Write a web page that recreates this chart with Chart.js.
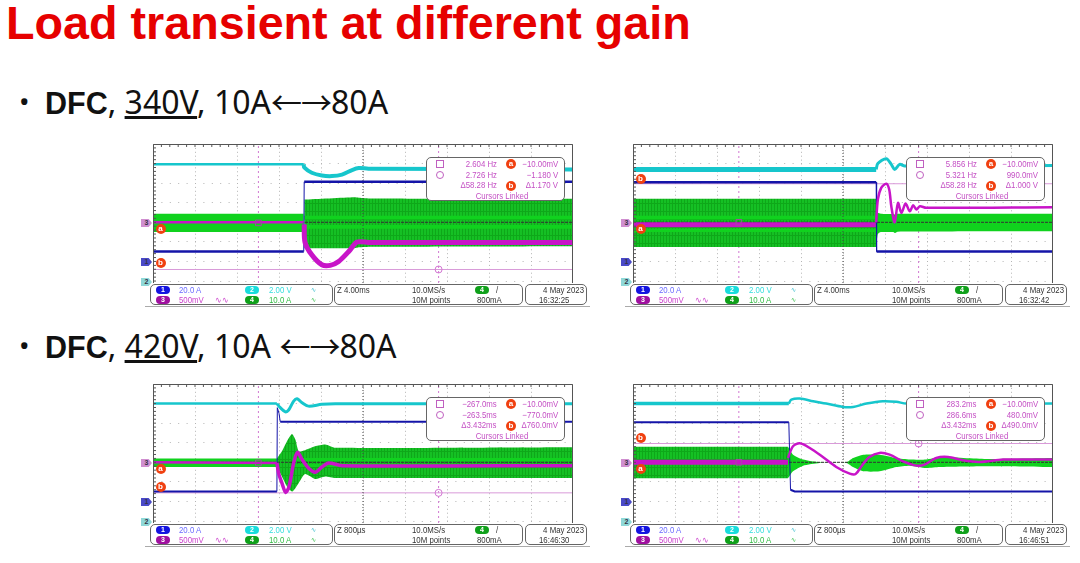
<!DOCTYPE html>
<html>
<head>
<meta charset="utf-8">
<title>Load transient at different gain</title>
<script src="https://cdn.jsdelivr.net/npm/chart.js@4"></script>
<style>
    html, body { margin: 0; padding: 0; background: #fff; }
    body { width: 1080px; height: 563px; position: relative; overflow: hidden; font-family: "Liberation Sans", Arial, sans-serif; }
    h1 { position: absolute; left: 6px; top: -3px; margin: 0; font-size: 46.7px; line-height: 52px; font-weight: bold; color: #e60000; white-space: nowrap; }
    .bullet { position: absolute; left: 45px; font-family: "Noto Sans", sans-serif; font-size: 32px; line-height: 36px; color: #111; white-space: nowrap; }
    .bullet b { font-family: "Liberation Sans", sans-serif; font-size: 30.5px; }
    .bullet i { position: absolute; left: -26px; font-style: normal; font-size: 28px; }
    .arrows { font-family: "Noto Sans CJK SC", sans-serif; font-size: 31px; letter-spacing: -1px; }
    canvas { position: absolute; filter: blur(0.35px); }
    .t { position: absolute; font-family: "Liberation Sans", sans-serif; font-size: 9px; line-height: 10px; white-space: nowrap; transform: scaleX(0.87); transform-origin: left center; filter: blur(0.2px); }
    .t.r { transform-origin: right center; }
    .t.c { transform-origin: center center; }
    .box { position: absolute; box-sizing: border-box; background: #fff; border: 1px solid #666; border-radius: 5px; }
    .pill { position: absolute; width: 14px; height: 8px; border-radius: 4px; color: #fff; font: bold 7px/8px "Liberation Sans", sans-serif; text-align: center; }
    .dot { position: absolute; width: 10px; height: 10px; border-radius: 50%; background: #f04010; color: #fff; font: bold 8px/9px "Liberation Sans", sans-serif; text-align: center; }
    .tag { position: absolute; width: 11px; height: 8px; color: #334; font: bold 7px/8px "Liberation Sans", sans-serif; text-align: center; clip-path: polygon(0 0, 70% 0, 100% 50%, 70% 100%, 0 100%); }
    .rule { position: absolute; height: 1px; background: #aaa; }
</style>
</head>
<body>
<h1>Load transient at different gain</h1>
<div class="bullet" style="top:83px"><i>•</i><b>DFC</b>, <u>340V</u>, 10A<span class="arrows">←→</span>80A</div>
<div class="bullet" style="top:327px"><i>•</i><b>DFC</b>, <u>420V</u>, 10A <span class="arrows">←→</span>80A</div>

<script>
const xDivisions = [0, 1, 2, 3, 4, 5, 6, 7, 8, 9, 10];
const yDivisions = [-3, -2, -1, 0, 1, 2, 3, 4];

// panel 1: 340V, 10A -> 80A
const p1CyanFlat = [[0, 2.96], [3.59, 2.96]];
const p1CyanDip = [[3.59, 2.96], [3.6, 2.8], [3.78, 2.53], [4.02, 2.39], [4.26, 2.36], [4.5, 2.44], [4.74, 2.67], [4.9, 2.77], [5.13, 2.74], [10, 2.7]];
const p1Blue = [[0, -1.49], [3.59, -1.49], [3.6, 2.07], [10, 2.07]];
const p1MagentaFlat = [[0, 0], [3.59, 0]];
const p1MagentaDip = [[3.6, -0.1], [3.62, -1.02], [3.78, -1.66], [4.02, -2.17], [4.22, -2.2], [4.42, -2], [4.66, -1.49], [4.86, -1.01], [5.13, -1.03], [10, -1.03]];
const p1GreenSolid = [[0, 0.44, -0.5], [3.59, 0.44, -0.5]];
const p1GreenRipple = [[3.6, 1.16, -1.32], [4.8, 1.28, -1.32], [4.9, 1.26, -1.28], [5.2, 1.22, -1.25], [10, 1.2, -1.22]];
const p1GreenBright = [[3.6, 10, 0.34, 0.14], [3.6, 10, -0.14, -0.33]];
const p1CursorX = [2.51, 6.8];
const p1CursorY = [-0.03, -2.41];

// panel 2: 340V, 80A -> 10A
const p2CyanFlat = [[0, 2.7], [5.79, 2.7]];
const p2CyanRing = [[5.79, 2.7], [5.83, 3], [6.03, 3.25], [6.15, 2.96], [6.23, 2.7], [6.35, 2.96], [6.47, 2.87], [10, 2.9]];
const p2Blue = [[0, 2.05], [5.79, 2.05], [5.8, -1.49], [10, -1.49]];
const p2MagentaFlat = [[0, -0.12], [5.78, -0.12]];
const p2MagentaRing = [[5.79, 0], [5.83, 1.16], [5.91, 1.76], [6.03, 1.97], [6.1, 1.68], [6.15, 0.82], [6.23, 0], [6.31, 0.99], [6.39, 0.48], [6.49, 0.96], [6.59, 0.56], [6.67, 0.87], [6.75, 0.65], [6.83, 0.82], [6.98, 0.74], [10, 0.77]];
const p2GreenSolid = [[5.79, 1.2, -1.26], [5.83, 0.5, -0.6], [5.9, 0.44, -0.5], [6.2, 0.42, -0.5], [6.23, 0.4, -0.55], [6.3, 0.44, -0.48], [10, 0.44, -0.46]];
const p2GreenRipple = [[0, 1.2, -1.26], [5.79, 1.2, -1.26]];
const p2GreenBright = [[0, 5.79, 0.34, 0.14], [0, 5.79, -0.33, -0.5]];
const p2CursorX = [2.52, 6.8];
const p2CursorY = [0, 1.97];

// panel 3: 420V, 10A -> 80A
const p3CyanFlat = [[0, 3], [2.95, 3]];
const p3CyanRing = [[2.95, 3], [3.03, 2.79], [3.15, 2.58], [3.23, 2.67], [3.35, 3.13], [3.43, 3.25], [3.55, 3.04], [3.7, 2.87], [4.02, 2.96], [4.34, 2.99], [10, 2.99]];
const p3Blue = [[0, -1.49], [2.95, -1.49], [2.96, 2.79], [3, 2.5], [3.03, 2.07], [10, 2.07]];
const p3MagentaFlat = [[0, 0], [2.95, -0.03]];
const p3MagentaRing = [[2.95, -0.03], [2.99, -0.55], [3.07, -1.06], [3.16, -1.54], [3.24, -1.23], [3.35, -0.03], [3.44, 0.51], [3.55, 0.14], [3.7, -0.29], [3.86, -0.51], [4.02, -0.24], [4.18, -0.03], [4.5, -0.17], [10, -0.17]];
const p3GreenSolid = [[0, 0.2, -0.24], [2.95, 0.2, -0.24]];
const p3GreenRipple = [[2.95, 0.2, -0.24], [3.07, 0.56, -0.72], [3.19, 1.08, -1.23], [3.31, 1.45, -1.49], [3.39, 1.16, -1.32], [3.47, 0.56, -1.06], [3.62, 0.62, -0.6], [3.86, 0.82, -0.85], [4.1, 0.91, -0.72], [4.34, 0.74, -0.8], [10, 0.77, -0.8]];
const p3GreenBright = [[3.3, 10, 0.22, 0.06], [3.3, 10, -0.08, -0.24]];
const p3CursorX = [2.51, 6.8];
const p3CursorY = [-0.03, -1.56];

// panel 4: 420V, 80A -> 10A
const p4CyanFlat = [[0, 3], [3.71, 3]];
const p4CyanRing = [[3.71, 3], [3.77, 3.2], [3.97, 3.26], [4.29, 3.12], [4.6, 3], [5, 2.83], [5.24, 2.83], [5.56, 3], [5.95, 3.12], [6.27, 3.09], [6.51, 3], [10, 3]];
const p4Blue = [[0, 2.05], [3.71, 2.05], [3.75, -1.4], [3.85, -1.49], [10, -1.49]];
const p4MagentaFlat = [[0, 0], [3.69, 0]];
const p4MagentaRing = [[3.69, 0.22], [3.81, 0.82], [3.97, 0.97], [4.21, 0.73], [4.52, 0.27], [4.84, -0.24], [5.16, -0.58], [5.3, -0.6], [5.44, -0.2], [5.63, 0.27], [5.87, 0.48], [6.11, 0.39], [6.43, 0.05], [6.75, -0.17], [6.94, -0.12], [7.22, 0.22], [7.5, 0.27], [7.86, 0.1], [8.25, 0.02], [8.81, 0.14], [9.37, 0.14], [10, 0.14]];
const p4GreenSolid = [[3.69, 0.79, -0.82], [3.81, 0.39, -0.46], [4.05, 0.14, -0.17], [4.44, 0, -0.03], [5.08, 0, -0.03], [5.24, 0.22, -0.24], [5.48, 0.39, -0.46], [5.87, 0.39, -0.46], [6.27, 0.22, -0.24], [6.59, 0.14, -0.17], [6.98, 0.14, -0.29], [7.3, 0.27, -0.24], [8.41, 0.17, -0.2], [10, 0.22, -0.24]];
const p4GreenRipple = [[0, 0.79, -0.82], [3.69, 0.79, -0.82]];
const p4GreenBright = [];
const p4CursorX = [2.52, 6.8];
const p4CursorY = [0, 0.96];

// readouts: square, circle, delta, right column
const p1Readout = ['2.604 Hz', '2.726 Hz', 'Δ58.28 Hz', '−10.00mV', '−1.180 V', 'Δ1.170 V'];
const p2Readout = ['5.856 Hz', '5.321 Hz', 'Δ58.28 Hz', '−10.00mV', '990.0mV', 'Δ1.000 V'];
const p3Readout = ['−267.0ms', '−263.5ms', 'Δ3.432ms', '−10.00mV', '−770.0mV', 'Δ760.0mV'];
const p4Readout = ['283.2ms', '286.6ms', 'Δ3.432ms', '−10.00mV', '480.0mV', 'Δ490.0mV'];
const zoomLabels = ['Z 4.00ms', 'Z 4.00ms', 'Z 800µs', 'Z 800µs'];
const timeLabels = ['16:32:25', '16:32:42', '16:46:30', '16:46:51'];

const panels = [
    { left: 153, top: 144, cyan: [p1CyanFlat, p1CyanDip], cyanW: [2.5, 4], blue: p1Blue, blueW: 2.5, magenta: [p1MagentaFlat, p1MagentaDip], magentaW: [2.5, 5], solid: p1GreenSolid, ripple: p1GreenRipple, bright: p1GreenBright, cursorX: p1CursorX, cursorY: p1CursorY, readout: p1Readout, a: 229, b: 263, zoom: zoomLabels[0], time: timeLabels[0] },
    { left: 633, top: 144, cyan: [p2CyanFlat, p2CyanRing], cyanW: [5, 3], blue: p2Blue, blueW: 2.5, magenta: [p2MagentaFlat, p2MagentaRing], magentaW: [5, 2.5], solid: p2GreenSolid, ripple: p2GreenRipple, bright: p2GreenBright, cursorX: p2CursorX, cursorY: p2CursorY, readout: p2Readout, a: 229, b: 179, zoom: zoomLabels[1], time: timeLabels[1] },
    { left: 153, top: 384, cyan: [p3CyanFlat, p3CyanRing], cyanW: [2.5, 3], blue: p3Blue, blueW: 2, magenta: [p3MagentaFlat, p3MagentaRing], magentaW: [2.5, 3.5], solid: p3GreenSolid, ripple: p3GreenRipple, bright: p3GreenBright, cursorX: p3CursorX, cursorY: p3CursorY, readout: p3Readout, a: 229, b: 247, zoom: zoomLabels[2], time: timeLabels[2] },
    { left: 633, top: 384, cyan: [p4CyanFlat, p4CyanRing], cyanW: [3.5, 2.5], blue: p4Blue, blueW: 2, magenta: [p4MagentaFlat, p4MagentaRing], magentaW: [5, 2.5], solid: p4GreenSolid, ripple: p4GreenRipple, bright: p4GreenBright, cursorX: p4CursorX, cursorY: p4CursorY, readout: p4Readout, a: 229, b: 198, zoom: zoomLabels[3], time: timeLabels[3] }
];

const CYAN = '#16c6cc';
const BLUE = '#1414a8';
const MAGENTA = '#c814c8';
const GREEN = '#10d21e';
const CURSOR = '#d277d2';
const Y_MIN = -3.1;
const Y_MAX = 4;

function ripplePattern() {
    const c = document.createElement('canvas');
    c.width = 3;
    c.height = 8;
    const ctx = c.getContext('2d');
    ctx.fillStyle = '#15c024';
    ctx.fillRect(0, 0, 3, 8);
    ctx.fillStyle = '#0ea819';
    ctx.fillRect(0, 0, 1, 8);
    ctx.fillRect(0, 3, 3, 1);
    return ctx.createPattern(c, 'repeat');
}

const toXY = pts => pts.map(p => ({ x: p[0], y: p[1] }));

function line(pts, color, width, extra) {
    return Object.assign({ data: toXY(pts), borderColor: color, borderWidth: width, pointRadius: 0, fill: false, tension: 0 }, extra);
}

// two datasets, the first one fills down to the second
function band(rows, fillStyle) {
    return [
        { data: rows.map(r => ({ x: r[0], y: r[1] })), borderWidth: 0, pointRadius: 0, fill: '+1', backgroundColor: fillStyle, tension: 0.2 },
        { data: rows.map(r => ({ x: r[0], y: r[2] })), borderWidth: 0, pointRadius: 0, fill: false, tension: 0.2 }
    ];
}

function buildDatasets(p) {
    const sets = [];
    // bottom of the stack first
    sets.push(line([[p.cursorX[0], Y_MIN], [p.cursorX[0], Y_MAX]], CURSOR, 1, { borderDash: [2, 3] }));
    sets.push(line([[p.cursorX[1], Y_MIN], [p.cursorX[1], Y_MAX]], CURSOR, 1, { borderDash: [2, 3] }));
    sets.push(line([[0, p.cursorY[1]], [10, p.cursorY[1]]], '#d99ad9', 1));
    sets.push(...band(p.ripple, ripplePattern()));
    if (p.solid.length) sets.push(...band(p.solid, GREEN));
    p.bright.forEach(b => sets.push(...band([[b[0], b[2], b[3]], [b[1], b[2], b[3]]], GREEN)));
    // centre cross stays visible on top of the green
    sets.push(line([[0, 0], [10, 0]], '#333', 1, { borderDash: [3, 1] }));
    sets.push(line([[5, Y_MIN], [5, Y_MAX]], '#444', 1, { borderDash: [1, 2] }));
    sets.push(line(p.cyan[0], CYAN, p.cyanW[0]));
    sets.push(line(p.cyan[1], CYAN, p.cyanW[1], { tension: 0.3 }));
    // the edge of the step is thin and pale on the scope
    sets.push(line(p.blue, BLUE, p.blueW, {
        segment: { borderWidth: ctx => Math.abs(ctx.p1.parsed.x - ctx.p0.parsed.x) < 0.1 ? 1 : p.blueW }
    }));
    sets.push(line(p.magenta[0], MAGENTA, p.magentaW[0]));
    sets.push(line(p.magenta[1], MAGENTA, p.magentaW[1], { tension: 0.3 }));
    sets.push({ data: [{ x: p.cursorX[0], y: p.cursorY[0] }], showLine: false, pointStyle: 'rect', pointRadius: 4, borderColor: '#a04ca0', borderWidth: 1, backgroundColor: 'rgba(0,0,0,0)' });
    sets.push({ data: [{ x: p.cursorX[1], y: p.cursorY[1] }], showLine: false, pointStyle: 'circle', pointRadius: 3.5, borderColor: CURSOR, borderWidth: 1, backgroundColor: 'rgba(0,0,0,0)' });
    // Chart.js paints low order last
    sets.forEach((s, i) => { s.order = sets.length - i; });
    return sets;
}

// scope frame and the small ticks along its edges
const framePlugin = {
    id: 'frame',
    afterDraw(chart) {
        const { ctx, chartArea: a, scales: { x, y } } = chart;
        ctx.save();
        ctx.strokeStyle = '#555';
        ctx.lineWidth = 1;
        ctx.beginPath();
        ctx.moveTo(a.left + 0.5, a.bottom);
        ctx.lineTo(a.left + 0.5, a.top + 0.5);
        ctx.lineTo(a.right - 0.5, a.top + 0.5);
        ctx.lineTo(a.right - 0.5, a.bottom);
        for (let v = 0; v <= 10; v += 0.2) {
            ctx.moveTo(x.getPixelForValue(v), a.top);
            ctx.lineTo(x.getPixelForValue(v), a.top + 3);
        }
        for (let v = -3; v <= 4; v += 0.2) {
            ctx.moveTo(a.left, y.getPixelForValue(v));
            ctx.lineTo(a.left + 3, y.getPixelForValue(v));
        }
        ctx.stroke();
        ctx.restore();
    }
};

function addText(text, x, y, color, align, size) {
    const el = document.createElement('div');
    el.className = 't';
    el.textContent = text;
    el.style.top = y + 'px';
    el.style.color = color;
    if (size) el.style.fontSize = size + 'px';
    if (align === 'right') {
        el.classList.add('r');
        el.style.right = (1080 - x) + 'px';
    } else if (align === 'center') {
        el.classList.add('c');
        el.style.left = (x - 40) + 'px';
        el.style.width = '80px';
        el.style.textAlign = 'center';
    } else {
        el.style.left = x + 'px';
    }
    document.body.appendChild(el);
}

function addEl(cls, x, y, w, h, text, color) {
    const el = document.createElement('div');
    el.className = cls;
    el.style.left = x + 'px';
    el.style.top = y + 'px';
    if (w) el.style.width = w + 'px';
    if (h) el.style.height = h + 'px';
    if (text) el.textContent = text;
    if (color) el.style.background = color;
    document.body.appendChild(el);
    return el;
}

function drawOverlay(p) {
    const L = p.left, T = p.top;

    // cursor readout box
    addEl('box', L + 272.7, T + 13.3, 139, 44);
    const sq = addEl('box', L + 283, T + 16, 8, 8);
    sq.style.cssText += ';border-radius:0;border-color:#c060c0;background:transparent';
    const ci = addEl('box', L + 283, T + 26.7, 8, 8);
    ci.style.cssText += ';border-radius:50%;border-color:#c060c0;background:transparent';
    const pink = '#c44fc4';
    p.readout.slice(0, 3).forEach((s, i) => addText(s, L + 344, T + 15 + i * 10.6, pink, 'right'));
    p.readout.slice(3).forEach((s, i) => addText(s, L + 405, T + 15 + i * 10.6, pink, 'right'));
    addEl('dot', L + 353, T + 15).textContent = 'a';
    addEl('dot', L + 353, T + 36.5).textContent = 'b';
    addText('Cursors Linked', L + 349, T + 47, pink, 'center');

    // channel tags and cursor tags on the left edge
    addEl('tag', L - 12, T + 75, 0, 0, '3', '#d08fd0');
    addEl('tag', L - 12, T + 114, 0, 0, '1', '#4a4ac8');
    addEl('tag', L - 12, T + 134, 0, 0, '2', '#8fd8d8');
    addEl('dot', L + 2.5, p.a - 144 + T - 5).textContent = 'a';
    addEl('dot', L + 2.5, p.b - 144 + T - 5).textContent = 'b';

    // status bar
    const barY = T + 140;
    addEl('box', L - 3.5, barY, 183, 21);
    addEl('box', L + 181, barY, 189, 21);
    addEl('box', L + 372, barY, 62, 21);
    addEl('rule', L - 8, barY + 21.5, 445, 0);
    addEl('pill', L + 3, barY + 2, 0, 0, '1', '#1414e0');
    addEl('pill', L + 3, barY + 12, 0, 0, '3', '#a010a0');
    addEl('pill', L + 92, barY + 2, 0, 0, '2', '#18dcdc');
    addEl('pill', L + 92, barY + 12, 0, 0, '4', '#0fa01a');
    addEl('pill', L + 322, barY + 2, 0, 0, '4', '#0fa01a');
    addText('20.0 A', L + 26, barY + 0.5, '#6a6aff');
    addText('500mV', L + 26, barY + 10.5, '#cc44cc');
    addText('∿∿', L + 62, barY + 10.5, '#cc44cc');
    addText('2.00 V', L + 116, barY + 0.5, '#33dddd');
    addText('10.0 A', L + 116, barY + 10.5, '#33bb44');
    addText('∿', L + 158, barY + 0.5, '#33bbcc', null, 7);
    addText('∿', L + 158, barY + 10.5, '#33bb44', null, 7);
    addText(p.zoom, L + 184, barY + 0.5, '#333');
    addText('10.0MS/s', L + 259, barY + 0.5, '#333');
    addText('10M points', L + 259, barY + 10.5, '#333');
    addText('/', L + 343, barY + 0.5, '#333');
    addText('800mA', L + 324, barY + 10.5, '#333');
    addText('4 May  2023', L + 431, barY + 0.5, '#333', 'right');
    addText(p.time, L + 386, barY + 10.5, '#333');
}

panels.forEach(p => {
    const canvas = document.createElement('canvas');
    canvas.width = 420;
    canvas.height = 139;
    canvas.style.left = p.left + 'px';
    canvas.style.top = p.top + 'px';
    document.body.appendChild(canvas);

    new Chart(canvas.getContext('2d'), {
        type: 'line',
        data: { datasets: buildDatasets(p) },
        options: {
            responsive: false,
            animation: false,
            events: [],
            layout: { padding: 0, autoPadding: false },
            plugins: { legend: { display: false }, tooltip: { enabled: false } },
            scales: {
                x: {
                    type: 'linear', min: 0, max: 10,
                    afterBuildTicks: axis => { axis.ticks = xDivisions.map(v => ({ value: v })); },
                    ticks: { display: false },
                    grid: { color: '#b4b4b4', drawTicks: false, lineWidth: 1 },
                    border: { display: false, dash: [1, 2.9] }
                },
                y: {
                    type: 'linear', min: Y_MIN, max: Y_MAX,
                    afterBuildTicks: axis => { axis.ticks = yDivisions.map(v => ({ value: v })); },
                    ticks: { display: false },
                    grid: { color: '#b4b4b4', drawTicks: false, lineWidth: 1 },
                    border: { display: false, dash: [1, 7.4] }
                }
            }
        },
        plugins: [framePlugin]
    });

    drawOverlay(p);
});
</script>
</body>
</html>
